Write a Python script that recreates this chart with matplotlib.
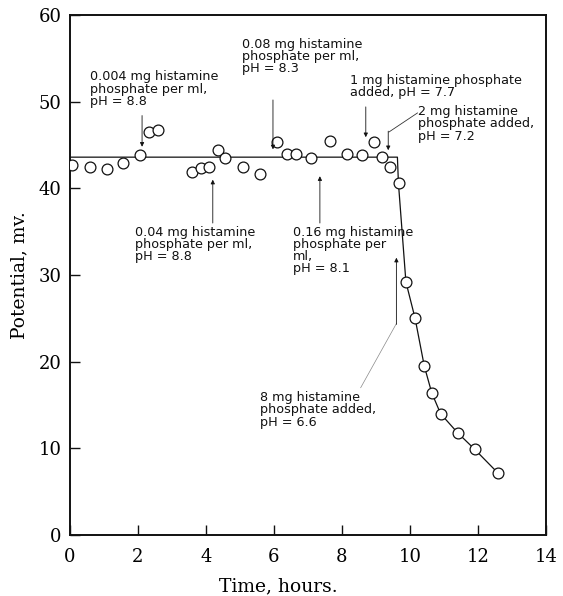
import matplotlib
matplotlib.use("Agg")
import matplotlib.pyplot as plt

# measured potential, plateau and after the 8 mg addition
time_h = [0.05, 0.59, 1.08, 1.57, 2.06, 2.33, 2.6, 3.59, 3.84, 4.1, 4.35, 4.57,
          5.08, 5.58, 6.1, 6.37, 6.64, 7.1, 7.65, 8.16, 8.58, 8.95, 9.17, 9.42,
          9.68, 9.88, 10.15, 10.42, 10.64, 10.9, 11.4, 11.9, 12.6]
potential_mv = [42.7, 42.5, 42.2, 42.9, 43.9, 46.5, 46.7, 41.9, 42.3, 42.5, 44.4, 43.5,
                42.5, 41.6, 45.4, 44.0, 44.0, 43.5, 45.5, 44.0, 43.9, 45.4, 43.6, 42.5,
                40.6, 29.2, 25.0, 19.5, 16.4, 14.0, 11.8, 9.9, 7.1]

# drawn curve: flat level, then the fall
curve_x = [0, 9.63, 9.66, 9.88, 10.15, 10.42, 10.64, 10.9, 11.4, 11.9, 12.6]
curve_y = [43.6, 43.6, 40.6, 29.2, 25.0, 19.5, 16.4, 14.0, 11.8, 9.9, 7.1]

x_ticks = [0, 2, 4, 6, 8, 10, 12, 14]
y_ticks = [0, 10, 20, 30, 40, 50, 60]

# (text, text top-left, arrow tail, arrow head)
notes = [
    ("0.004 mg histamine\nphosphate per ml,\npH = 8.8", (0.59, 53.6), (2.12, 48.4), (2.12, 44.8)),
    ("0.08 mg histamine\nphosphate per ml,\npH = 8.3", (5.06, 57.4), (5.97, 50.2), (5.97, 44.5)),
    ("1 mg histamine phosphate\nadded, pH = 7.7", (8.24, 53.2), (8.7, 49.4), (8.7, 45.9)),
    ("0.04 mg histamine\nphosphate per ml,\npH = 8.8", (1.91, 35.7), (4.2, 36.0), (4.2, 41.0)),
    ("0.16 mg histamine\nphosphate per\nml,\npH = 8.1", (6.56, 35.7), (7.35, 36.0), (7.35, 41.4)),
]

plt.rcParams["font.family"] = "DejaVu Serif"

fig = plt.figure(figsize=(5.63, 5.96), dpi=100)
ax = fig.add_axes([0.1243, 0.1023, 0.8455, 0.8725])

ax.plot(curve_x, curve_y, color="#111111", lw=0.9, zorder=2)
ax.plot(time_h, potential_mv, "o", ms=7.8, mfc="white", mec="#111111", mew=0.9, zorder=3)

note_font = dict(family="DejaVu Sans", size=9.2, color="#111111", linespacing=0.92)
arrow = dict(arrowstyle="-|>", lw=0.6, color="#111111", mutation_scale=6, shrinkA=0, shrinkB=0)

for text, pos, tail, head in notes:
    ax.text(pos[0], pos[1], text, ha="left", va="top", **note_font)
    ax.annotate("", xy=head, xytext=tail, arrowprops=arrow)

# 2 mg note with a bent leader
ax.text(10.24, 49.6, "2 mg histamine\nphosphate added,\npH = 7.2", ha="left", va="top", **note_font)
ax.plot([10.22, 9.38], [48.7, 46.5], color="#333333", lw=0.6)
ax.annotate("", xy=(9.36, 44.4), xytext=(9.36, 46.6), arrowprops=arrow)

# 8 mg note with a faint diagonal leader
ax.text(5.59, 16.6, "8 mg histamine\nphosphate added,\npH = 6.6", ha="left", va="top", **note_font)
ax.plot([8.55, 9.6], [17.0, 24.4], color="#888888", lw=0.5)
ax.annotate("", xy=(9.6, 32.0), xytext=(9.6, 24.3), arrowprops=arrow)

ax.set_xlim(0, 14)
ax.set_ylim(0, 60)
ax.set_xticks(x_ticks)
ax.set_yticks(y_ticks)
ax.tick_params(direction="in", length=7, width=1, labelsize=13, color="#111111")
ax.tick_params(axis="x", pad=9)
ax.tick_params(axis="y", pad=6)
for side in ax.spines.values():
    side.set_linewidth(1.4)
    side.set_color("#111111")

ax.set_xlabel("Time, hours.", fontsize=13.5)
ax.set_ylabel("Potential, mv.", fontsize=13.5)
ax.xaxis.set_label_coords(0.437, -0.082)
ax.yaxis.set_label_coords(-0.088, 0.5)

fig.savefig("out.png", dpi=100)
